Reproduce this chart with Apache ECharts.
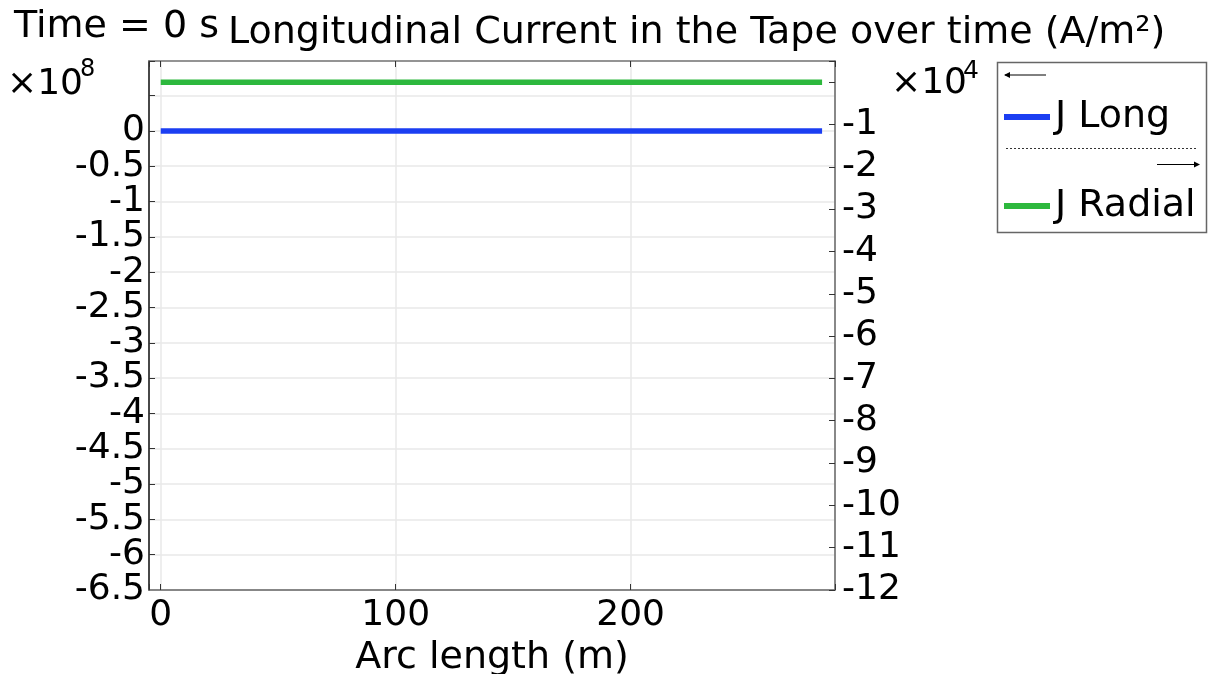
<!DOCTYPE html>
<html>
<head>
<meta charset="utf-8">
<script src="https://cdn.jsdelivr.net/npm/echarts@6/dist/echarts.min.js"></script>
<style>
  html, body { margin: 0; background: #fff; }
  #main { width: 1208px; height: 674px; }
</style>
</head>
<body>
<div id="main"></div>
<script>
// arc length along the tape (m)
var arcLength = [0, 281.5];
// J Long, left axis, in units of 1e8 A/m^2
var jLong = [0, 0];
// J Radial, right axis, in units of 1e4 A/m^2
var jRadial = [0, 0];

var FONT = 'DejaVu Sans';
var BLUE = '#1b3ef2';
var GREEN = '#2db83d';

function pairs(xs, ys) {
  return xs.map(function (x, i) { return [x, ys[i]]; });
}

var chart = echarts.init(document.getElementById('main'));

var option = {
  animation: false,
  textStyle: { fontFamily: FONT },
  grid: { left: 149, right: 373, top: 61, bottom: 84, outerBoundsMode: 'none', containLabel: false },
  xAxis: [
    {
      type: 'value', position: 'bottom', min: -5, max: 287, splitNumber: 3,
      name: 'Arc length (m)', nameLocation: 'middle', nameGap: 49,
      nameTextStyle: { fontSize: 38, color: '#000', fontFamily: FONT },
      axisLine: { show: true, onZero: false, lineStyle: { color: '#666', width: 1.5 } },
      axisTick: { show: true, inside: true, length: 6, lineStyle: { color: '#333' } },
      axisLabel: {
        fontSize: 36, color: '#000', margin: 8, fontFamily: FONT,
        formatter: function (v) { return v % 100 === 0 ? String(v) : ''; }
      },
      splitLine: { show: true, lineStyle: { color: '#e8e8e8', width: 1.5 } }
    },
    {
      type: 'value', position: 'top', min: -5, max: 287, splitNumber: 3,
      axisLine: { show: true, onZero: false, lineStyle: { color: '#777', width: 1.5 } },
      axisTick: { show: true, inside: true, length: 6, lineStyle: { color: '#333' } },
      axisLabel: { show: false },
      splitLine: { show: false }
    }
  ],
  yAxis: [
    {
      type: 'value', position: 'left', min: -6.5, max: 0.99, interval: 0.5,
      axisLine: { show: true, onZero: false, lineStyle: { color: '#111', width: 1.5 } },
      axisTick: { show: true, inside: true, length: 6, lineStyle: { color: '#333' } },
      axisLabel: {
        fontSize: 36, color: '#000', margin: 4, fontFamily: FONT,
        showMinLabel: false,
        formatter: function (v) { return v > 0.25 ? '' : String(v); }
      },
      splitLine: { show: true, lineStyle: { color: '#e8e8e8', width: 1.5 } }
    },
    {
      type: 'value', position: 'right', min: -12, max: 0.5, interval: 1,
      axisLine: { show: true, onZero: false, lineStyle: { color: '#666', width: 1.5 } },
      axisTick: { show: true, inside: true, length: 6, lineStyle: { color: '#333' } },
      axisLabel: {
        fontSize: 36, color: '#000', margin: 7, fontFamily: FONT,
        showMinLabel: true,
        formatter: function (v) { return v > -0.5 ? '' : String(v); }
      },
      splitLine: { show: false }
    },
    {
      // carries only the bottom label of the left scale
      type: 'value', position: 'left', min: -6.5, max: 0.99, interval: 0.5,
      axisLine: { show: false }, axisTick: { show: false }, splitLine: { show: false },
      axisLabel: {
        fontSize: 36, color: '#000', margin: 4, fontFamily: FONT,
        showMinLabel: true,
        formatter: function (v) { return v === -6.5 ? String(v) : ''; }
      }
    }
  ],
  legend: {
    orient: 'vertical', left: 1004, top: 97, itemGap: 49, padding: 0,
    icon: 'rect', itemWidth: 46, itemHeight: 6,
    textStyle: { fontSize: 38, color: '#000', lineHeight: 40, fontFamily: FONT },
    data: ['J Long', 'J Radial']
  },
  series: [
    {
      name: 'J Long', type: 'line', xAxisIndex: 0, yAxisIndex: 0,
      data: pairs(arcLength, jLong), showSymbol: false,
      lineStyle: { color: BLUE, width: 5.5 }, itemStyle: { color: BLUE }
    },
    {
      name: 'J Radial', type: 'line', xAxisIndex: 0, yAxisIndex: 1,
      data: pairs(arcLength, jRadial), showSymbol: false,
      lineStyle: { color: GREEN, width: 5.5 }, itemStyle: { color: GREEN }
    }
  ],
  graphic: [
    // titles
    { type: 'text', left: 14, top: 8, style: { text: 'Time = 0 s', font: '38px "DejaVu Sans"', fill: '#000' } },
    { type: 'text', left: 228, top: 14, style: { text: 'Longitudinal Current in the Tape over time (A/m²)', font: '38px "DejaVu Sans"', fill: '#000' } },
    // exponents
    { type: 'text', left: 7, top: 67, style: { text: '×10', font: '36px "DejaVu Sans"', fill: '#000' } },
    { type: 'text', left: 80, top: 58, style: { text: '8', font: '24px "DejaVu Sans"', fill: '#000' } },
    { type: 'text', left: 891, top: 66, style: { text: '×10', font: '36px "DejaVu Sans"', fill: '#000' } },
    { type: 'text', left: 963, top: 59, style: { text: '4', font: '25px "DejaVu Sans"', fill: '#000' } },
    // legend frame and axis markers
    { type: 'rect', shape: { x: 997.5, y: 62.5, width: 209, height: 170 }, style: { fill: 'none', stroke: '#666', lineWidth: 1.5 }, z: 10 },
    { type: 'line', shape: { x1: 1005, y1: 75, x2: 1046, y2: 75 }, style: { stroke: '#000', lineWidth: 1 }, z: 10 },
    { type: 'polygon', shape: { points: [[1004, 75], [1010, 72], [1010, 78]] }, style: { fill: '#000' }, z: 10 },
    { type: 'line', shape: { x1: 1006, y1: 148.5, x2: 1198, y2: 148.5 }, style: { stroke: '#333', lineWidth: 1, lineDash: [2, 2] }, z: 10 },
    { type: 'line', shape: { x1: 1157, y1: 164.5, x2: 1198, y2: 164.5 }, style: { stroke: '#000', lineWidth: 1 }, z: 10 },
    { type: 'polygon', shape: { points: [[1200, 164.5], [1194, 161.5], [1194, 167.5]] }, style: { fill: '#000' }, z: 10 }
  ]
};

chart.setOption(option);
</script>
</body>
</html>
